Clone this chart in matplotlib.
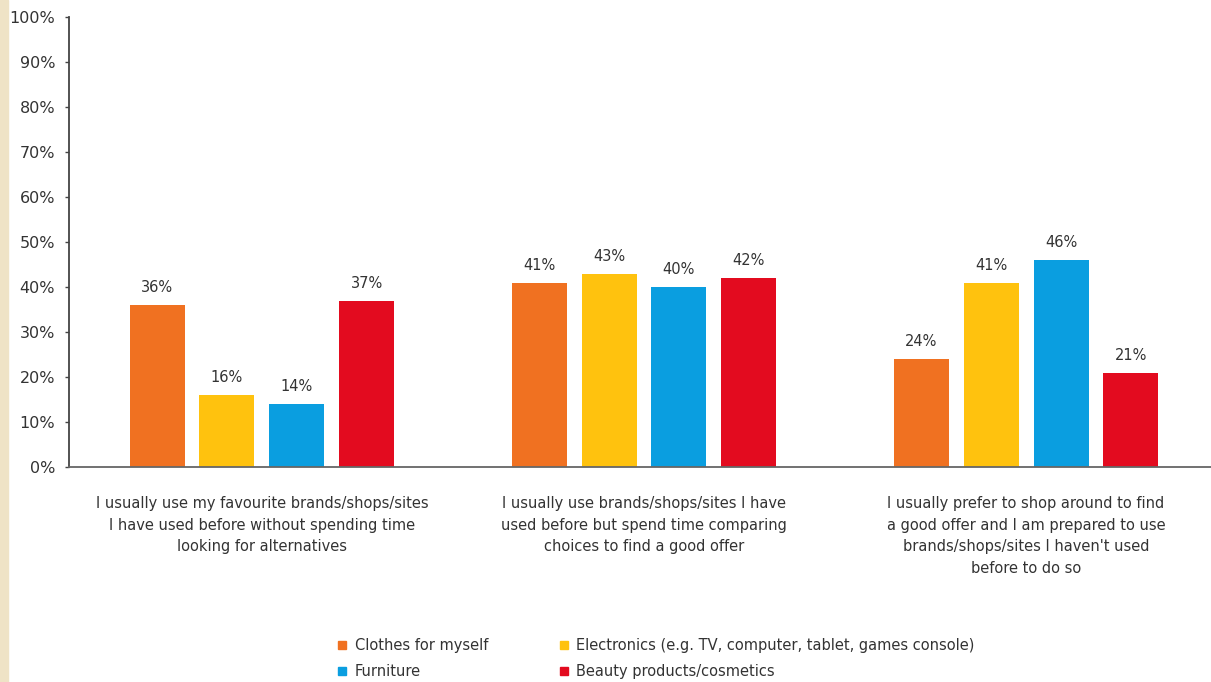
import numpy as np
import matplotlib.pyplot as plt
from matplotlib.patches import Rectangle
from matplotlib.lines import Line2D

# Data
categories = [
    "I usually use my favourite brands/shops/sites\nI have used before without spending time\nlooking for alternatives",
    "I usually use brands/shops/sites I have\nused before but spend time comparing\nchoices to find a good offer",
    "I usually prefer to shop around to find\na good offer and I am prepared to use\nbrands/shops/sites I haven't used\nbefore to do so",
]
series = ["Clothes for myself", "Electronics (e.g. TV, computer, tablet, games console)",
          "Furniture", "Beauty products/cosmetics"]
clothes = [36, 41, 24]
electronics = [16, 43, 41]
furniture = [14, 40, 46]
beauty = [37, 42, 21]
values = [clothes, electronics, furniture, beauty]
colors = ["#f07121", "#ffc20e", "#0a9ee0", "#e30b1f"]

fig = plt.figure(figsize=(12.11, 6.82), dpi=100)
fig.patches.append(Rectangle((0, 0), 8 / 1211, 1, transform=fig.transFigure,
                             color="#efe3c6", zorder=0))
ax = fig.add_axes([69 / 1211, 1 - 467 / 682, 1 - 69 / 1211, 450 / 682])

x = np.arange(len(categories))
width = 0.144
step = 0.183
for i, (vals, col) in enumerate(zip(values, colors)):
    ax.bar(x + (i - 1.5) * step, vals, width, color=col, zorder=2)
    for xi, v in zip(x + (i - 1.5) * step, vals):
        ax.text(xi, v + 2.2, f"{v}%", ha="center", va="bottom", fontsize=10.5, color="#333333")

ax.set_xlim(-0.505, 2.484)
ax.set_ylim(0, 100)
ax.set_yticks(range(0, 101, 10))
ax.set_yticklabels([f"{t}%" for t in range(0, 101, 10)], fontsize=11.5, color="#333333")
ax.set_xticks([])
for s in ["top", "right"]:
    ax.spines[s].set_visible(False)
ax.spines["left"].set_color("#444444")
ax.spines["bottom"].set_color("#666666")
ax.spines["left"].set_linewidth(1.3)
ax.spines["bottom"].set_linewidth(1.3)
ax.tick_params(axis="y", length=3, width=1, color="#444444", pad=7)

for xi, lab in zip(x, categories):
    ax.text(xi, -6.5, lab, ha="center", va="top", fontsize=10.5, color="#333333",
            linespacing=1.55)

order = [0, 2, 1, 3]
handles = [Line2D([], [], marker="s", linestyle="none", markersize=6,
                  color=colors[k]) for k in order]
fig.legend(handles, [series[k] for k in order], ncol=2, loc="lower left",
           bbox_to_anchor=(322 / 1211, -0.015), frameon=False, fontsize=10.5,
           handletextpad=0.35, columnspacing=4.7, labelspacing=0.75, handlelength=1.0,
           labelcolor="#333333")

fig.savefig("out.png", dpi=100)
